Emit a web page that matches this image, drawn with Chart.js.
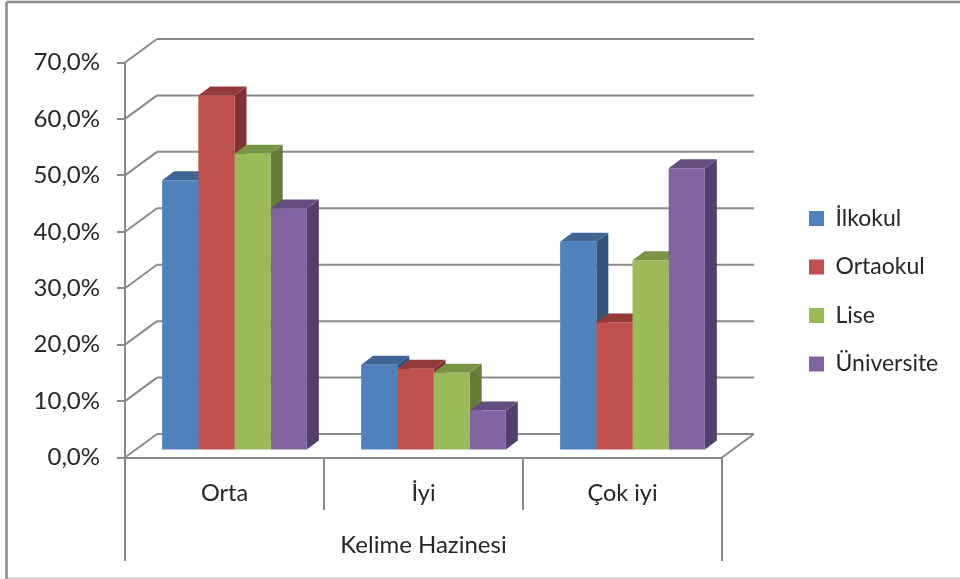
<!DOCTYPE html>
<html>
<head>
<meta charset="utf-8">
<style>
    html, body { margin: 0; padding: 0; background: #fff; }
    canvas { display: block; }
</style>
<script src="https://cdn.jsdelivr.net/npm/chart.js@4/dist/chart.umd.min.js"></script>
</head>
<body>
<canvas id="chart" width="960" height="579"></canvas>
<script>
// DATA
const categories = ['Orta', 'İyi', 'Çok iyi'];
const axisTitle = 'Kelime Hazinesi';
const seriesNames = ['İlkokul', 'Ortaokul', 'Lise', 'Üniversite'];
const ilkokul = [47.9, 15.2, 37.0];
const ortaokul = [62.9, 14.5, 22.7];
const lise = [52.6, 13.8, 33.7];
const universite = [42.9, 7.1, 50.0];
const tickLabels = ['0,0%', '10,0%', '20,0%', '30,0%', '40,0%', '50,0%', '60,0%', '70,0%'];

// COLOURS
const frontColors = ['#4f81bd', '#c0504d', '#9bbb59', '#8064a2'];
const topColors = ['#3e6594', '#953a38', '#7a9446', '#644e80'];
const sideColors = ['#33547d', '#7f3230', '#657b3a', '#533f6b'];
const axisColor = '#8a8a8a';
const textColor = '#262626';
const fontFamily = 'Lato, "Open Sans", sans-serif';

// depth of the walls and of the bars, in pixels
const wallDx = 32, wallDy = -23.5;
const barShiftX = 10, barShiftY = -7;
const barDx = 12, barDy = -9;

function line(ctx, x1, y1, x2, y2) {
    ctx.beginPath();
    ctx.moveTo(x1, y1);
    ctx.lineTo(x2, y2);
    ctx.stroke();
}

function face(ctx, color, pts) {
    ctx.fillStyle = color;
    ctx.beginPath();
    pts.forEach((p, i) => i ? ctx.lineTo(p[0], p[1]) : ctx.moveTo(p[0], p[1]));
    ctx.closePath();
    ctx.fill();
}

// walls, frame and category dividers
const wallPlugin = {
    id: 'walls',
    beforeDatasetsDraw(chart) {
        const { ctx, scales: { x, y } } = chart;
        ctx.save();

        // outer frame
        ctx.strokeStyle = axisColor;
        ctx.lineWidth = 2.5;
        line(ctx, 6.5, 2, 960, 2);
        line(ctx, 6.5, 2, 6.5, 579);
        ctx.strokeStyle = '#d0d0d0';
        ctx.lineWidth = 1.5;
        line(ctx, 8, 578, 960, 578);

        ctx.strokeStyle = axisColor;
        ctx.lineWidth = 2;
        y.ticks.forEach(t => {
            const py = y.getPixelForValue(t.value);
            line(ctx, x.left, py, x.left + wallDx, py + wallDy);
            line(ctx, x.left + wallDx, py + wallDy, x.right + wallDx, py + wallDy);
        });
        const y0 = y.getPixelForValue(0);
        line(ctx, x.right, y0, x.right + wallDx, y0 + wallDy);

        const step = x.width / categories.length;
        for (let i = 0; i <= categories.length; i++) {
            const outer = i === 0 || i === categories.length;
            line(ctx, x.left + i * step, y0, x.left + i * step, outer ? 561 : 510);
        }
        ctx.restore();

        // bars are moved into the room, then sides and tops go under the fronts
        ctx.save();
        ctx.translate(barShiftX, barShiftY);
        chart.data.datasets.forEach((ds, d) => {
            chart.getDatasetMeta(d).data.forEach(bar => {
                const l = bar.x - bar.width / 2;
                const r = bar.x + bar.width / 2;
                face(ctx, sideColors[d], [[r, bar.y], [r + barDx, bar.y + barDy], [r + barDx, bar.base + barDy], [r, bar.base]]);
                face(ctx, topColors[d], [[l, bar.y], [l + barDx, bar.y + barDy], [r + barDx, bar.y + barDy], [r, bar.y]]);
            });
        });
    },
    afterDatasetsDraw(chart) {
        chart.ctx.restore();
    },
    afterLayout(chart) {
        // legend sits away from the plot, its clip box has to follow
        const lg = chart.legend;
        const pad = chart.options.plugins.legend.labels.padding;
        lg.left = 809 - pad;
        lg.right = 960;
        lg.top = 207 - pad;
        lg.bottom = 579;
    }
};

const values = [ilkokul, ortaokul, lise, universite];

new Chart(document.getElementById('chart'), {
    type: 'bar',
    data: {
        labels: categories,
        datasets: seriesNames.map((name, i) => ({
            label: name,
            data: values[i],
            backgroundColor: frontColors[i],
            borderWidth: 0,
            clip: false
        }))
    },
    options: {
        responsive: false,
        animation: false,
        categoryPercentage: 0.727,
        barPercentage: 1,
        layout: { padding: { top: 62.5, right: 138, left: 0, bottom: 0 } },
        plugins: {
            tooltip: { enabled: false },
            legend: {
                position: 'right',
                align: 'start',
                maxWidth: 100,
                labels: {
                    boxWidth: 15,
                    boxHeight: 15,
                    padding: 25.5,
                    color: textColor,
                    font: { family: fontFamily, size: 23 }
                }
            }
        },
        scales: {
            x: {
                afterFit(scale) { scale.height = 121.5; },
                grid: { display: false, drawTicks: false },
                border: { display: true, color: axisColor, width: 2 },
                ticks: {
                    padding: 22,
                    color: textColor,
                    maxRotation: 0,
                    font: { family: fontFamily, size: 23.5 }
                },
                title: {
                    display: true,
                    text: axisTitle,
                    color: textColor,
                    padding: { top: 0, bottom: 19 },
                    font: { family: fontFamily, size: 24 }
                }
            },
            y: {
                min: 0,
                max: 70,
                afterFit(scale) { scale.width = 125; },
                grid: { drawOnChartArea: false, drawTicks: true, tickLength: 8, color: axisColor, lineWidth: 2 },
                border: { display: true, color: axisColor, width: 2 },
                ticks: {
                    stepSize: 10,
                    padding: 17,
                    color: textColor,
                    font: { family: fontFamily, size: 24 },
                    callback: (v, i) => tickLabels[i]
                }
            }
        }
    },
    plugins: [wallPlugin]
});
</script>
</body>
</html>
